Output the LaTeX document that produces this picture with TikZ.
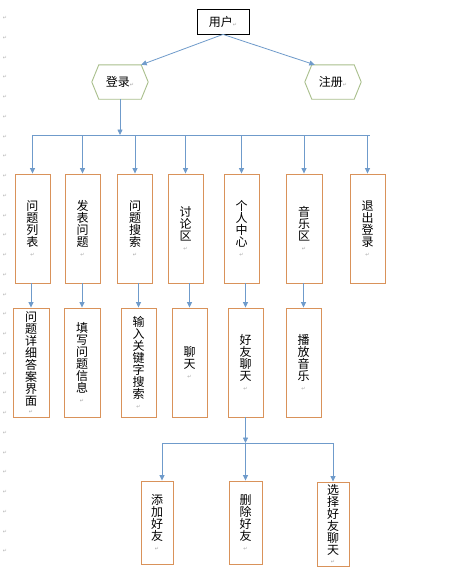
\documentclass[tikz,border=0pt]{standalone}
\usepackage{fontspec}
\newfontfamily\cjk{Noto Sans CJK SC}
\newfontfamily\symf{DejaVu Sans}
\usetikzlibrary{arrows.meta}
\definecolor{lnblue}{HTML}{6F9BCB}
\definecolor{bxorange}{HTML}{D9925A}
\definecolor{hxgreen}{HTML}{A9BF8C}
\newcommand{\rmk}{{\symf\fontsize{5}{5}\selectfont\color{gray!70}↵}}
\begin{document}
\begin{tikzpicture}[x=1pt,y=-1pt,
  every node/.style={font=\cjk\fontsize{12}{12}\selectfont, text=black},
  conn/.style={draw=lnblue, line width=0.8pt},
  arr/.style={conn, -{Triangle[length=5.5pt,width=5pt]}},
  vbox/.style={draw=bxorange, line width=0.9pt, inner sep=0pt, minimum width=35pt, minimum height=109pt, align=center},
  sbox/.style={vbox, minimum width=32pt, minimum height=83pt},
  ubox/.style={draw=black, line width=0.8pt, minimum width=52pt, minimum height=25pt, inner sep=0pt},
  hexcore/.style={minimum width=42pt, minimum height=34pt, inner sep=0pt},
  hexline/.style={draw=hxgreen, line width=0.9pt},
  margmark/.style={font=\symf\fontsize{5}{5}\selectfont, text=gray!60, inner sep=0pt}
]
\fill[white] (0,0) rectangle (472,579);
\useasboundingbox (0,0) rectangle (472,579);

% left margin paragraph marks
\foreach \k in {0,...,27}{
  \node[margmark] (mm\k) at (5,{18+19.75*\k}) {↵};
}

% top
\node[ubox] (user) at (223,21.5) {用户\rmk};
\node[hexcore] (login) at (120,82) {登录\rmk};
\node[hexcore] (reg) at (333,82) {注册\rmk};
\foreach \h in {login,reg}{
  \draw[hexline] ([xshift=-7pt]\h.west) -- (\h.north west) -- (\h.north east)
    -- ([xshift=7pt]\h.east) -- (\h.south east) -- (\h.south west) -- cycle;
}
\draw[arr] (user.south) -- (login.north east);
\draw[arr] (user.south) -- ([xshift=3pt]reg.north west);

% level 1
\node[vbox] (a1) at (32.5,228.5) {问\\题\\列\\表\\[-2pt]\rmk};
\node[vbox] (a2) at (82.5,228.5) {发\\表\\问\\题\\[-2pt]\rmk};
\node[vbox] (a3) at (135,228.5) {问\\题\\搜\\索\\[-2pt]\rmk};
\node[vbox] (a4) at (185.5,228.5) {讨\\论\\区\\[-2pt]\rmk};
\node[vbox] (a5) at (241.5,228.5) {个\\人\\中\\心\\[-2pt]\rmk};
\node[vbox,minimum width=36pt] (a6) at (304,228.5) {音\\乐\\区\\[-2pt]\rmk};
\node[vbox] (a7) at (367.5,228.5) {退\\出\\登\\录\\[-2pt]\rmk};

\coordinate (bus1) at (120,135);
\coordinate (busL) at (33,135);
\coordinate (busR) at (370,135);
\draw[arr] (login.south) -- (bus1);
\draw[conn] (busL) -- (busR);
\foreach \n in {a1,a2,a3,a4,a5,a6,a7}{
  \draw[arr] (\n.north |- busL) -- (\n.north);
}

% level 2
\node[vbox,minimum width=36pt] (b1) at (31,362.5) {问\\题\\详\\细\\答\\案\\界\\面\\[-4pt]\rmk};
\node[vbox,minimum width=36pt] (b2) at (82,362.5) {填\\写\\问\\题\\信\\息\\[-2pt]\rmk};
\node[vbox] (b3) at (138.5,362.5) {输\\入\\关\\键\\字\\搜\\索\\[-2pt]\rmk};
\node[vbox] (b4) at (189.5,362.5) {聊\\天\\[-2pt]\rmk};
\node[vbox] (b5) at (245.5,362.5) {好\\友\\聊\\天\\[-2pt]\rmk};
\node[vbox] (b6) at (303.5,362.5) {播\\放\\音\\乐\\[-2pt]\rmk};
\foreach \u/\l in {a1/b1,a2/b2,a3/b3,a4/b4,a5/b5,a6/b6}{
  \draw[arr] (\l.north |- \u.south) -- (\l.north);
}

% level 3
\node[sbox] (d1) at (157,522.5) {添\\加\\好\\友\\[-2pt]\rmk};
\node[sbox,minimum width=33pt] (d2) at (245.5,522.5) {删\\除\\好\\友\\[-2pt]\rmk};
\node[sbox,minimum height=84pt] (d3) at (333,524) {选\\择\\好\\友\\聊\\天\\[-3pt]\rmk};
\coordinate (bus3) at (245.5,443);
\coordinate (bus3L) at (162,443);
\coordinate (bus3R) at (333,443);
\draw[arr] (b5.south) -- (bus3);
\draw[conn] (bus3L) -- (bus3R);
\draw[arr] (bus3L) -- (bus3L |- d1.north);
\draw[arr] (bus3) -- (d2.north);
\draw[arr] (bus3R) -- (d3.north);
\end{tikzpicture}
\end{document}
